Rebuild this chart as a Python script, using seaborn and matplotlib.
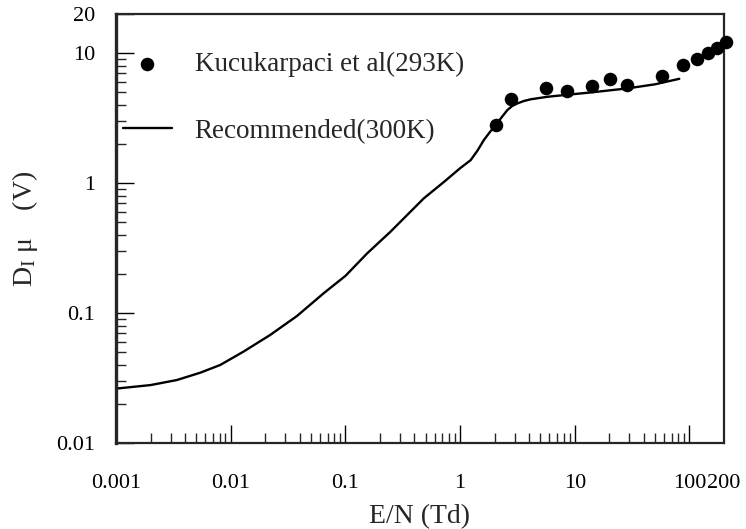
#!/usr/bin/env python3
"""Ion diffusion coefficient ratio D_I mu versus E/N, log-log."""

import numpy as np
import pandas as pd
import matplotlib
matplotlib.use("Agg")
import matplotlib.pyplot as plt
from matplotlib.ticker import LogLocator, NullFormatter, FixedLocator, FixedFormatter
import seaborn as sns

# Recommended curve (300K)
rec_en = [0.001, 0.002, 0.00339, 0.00541, 0.00809, 0.0129, 0.0221, 0.0378, 0.0647,
          0.1, 0.155, 0.247, 0.483, 0.723, 1.0, 1.236, 1.42, 1.61, 1.82, 2.04,
          2.3, 2.58, 2.85, 3.16, 3.6, 4.13, 5.76, 8.63, 13.8, 28.8, 50.0, 81.5]
rec_dmu = [0.0262, 0.0279, 0.0305, 0.0347, 0.0398, 0.0504, 0.0678, 0.0948, 0.142,
           0.193, 0.288, 0.422, 0.763, 1.02, 1.3, 1.5, 1.78, 2.14, 2.47, 2.79,
           3.2, 3.64, 3.92, 4.10, 4.28, 4.41, 4.61, 4.78, 4.98, 5.35, 5.75, 6.34]

# Kucukarpaci et al (293K) measurements
kuc_en = [2.04, 2.80, 5.61, 8.63, 14.1, 20.2, 28.5, 57.9, 88.3, 116, 144, 174, 208]
kuc_dmu = [2.79, 4.45, 5.41, 5.13, 5.57, 6.31, 5.64, 6.65, 8.04, 9.04, 9.95, 11.0, 12.2]

x_ticks = [0.001, 0.01, 0.1, 1, 10, 100, 200]
x_labels = ["0.001", "0.01", "0.1", "1", "10", "100", "200"]
y_ticks = [0.01, 0.1, 1, 10, 20]
y_labels = ["0.01", "0.1", "1", "10", "20"]

rec = pd.DataFrame({"en": rec_en, "dmu": rec_dmu})
kuc = pd.DataFrame({"en": kuc_en, "dmu": kuc_dmu})

sns.set_style("ticks")
plt.rcParams["font.family"] = ["Liberation Serif", "DejaVu Serif"]
plt.rcParams["mathtext.fontset"] = "custom"
plt.rcParams["mathtext.rm"] = "Liberation Serif"
plt.rcParams["mathtext.it"] = "Liberation Serif:italic"

fig = plt.figure(figsize=(7.46, 5.29), dpi=100)
ax = fig.add_axes([0.1555, 0.1626, 0.815, 0.811])

ax.set_xscale("log")
ax.set_yscale("log")

sns.scatterplot(data=kuc, x="en", y="dmu", ax=ax, color="black", s=95,
                edgecolor="black", linewidth=0, label="Kucukarpaci et al(293K)",
                zorder=3, clip_on=False)
sns.lineplot(data=rec, x="en", y="dmu", ax=ax, color="black", linewidth=1.7,
             label="Recommended(300K)", sort=False)

ax.set_xlim(0.001, 200)
ax.set_ylim(0.01, 20)

ax.xaxis.set_major_locator(FixedLocator(x_ticks))
ax.xaxis.set_major_formatter(FixedFormatter(x_labels))
ax.yaxis.set_major_locator(FixedLocator(y_ticks))
ax.yaxis.set_major_formatter(FixedFormatter(y_labels))
ax.xaxis.set_minor_locator(LogLocator(base=10, subs=np.arange(2, 10), numticks=20))
ax.yaxis.set_minor_locator(LogLocator(base=10, subs=np.arange(2, 10), numticks=20))
ax.xaxis.set_minor_formatter(NullFormatter())
ax.yaxis.set_minor_formatter(NullFormatter())

ax.tick_params(which="major", direction="in", length=13, width=1.0,
               labelsize=16, pad=22, colors="black")
ax.tick_params(axis="y", which="major", pad=15)
ax.tick_params(which="minor", direction="in", length=7, width=1.0)
ax.tick_params(top=False, right=False, which="both")
# the 200 tick is only a label at the edge
ax.xaxis.get_major_ticks()[-1].tick1line.set_visible(False)

for side in ["top", "right", "bottom"]:
    ax.spines[side].set_linewidth(1.6)
    ax.spines[side].set_visible(True)
ax.spines["left"].set_linewidth(2.4)

ax.set_xlabel("E/N (Td)", fontsize=20, labelpad=8)
ax.set_ylabel(r"D$_{\rm I}$ μ    (V)", fontsize=20, labelpad=12)

handles, labels = ax.get_legend_handles_labels()
ax.legend(handles, labels, loc="upper left", frameon=False, fontsize=19.5,
          bbox_to_anchor=(0.0115, 0.912), borderpad=0, borderaxespad=0,
          handlelength=1.8, handletextpad=0.85, labelspacing=1.55,
          markerscale=1.0)

fig.savefig("out.png", dpi=100)
